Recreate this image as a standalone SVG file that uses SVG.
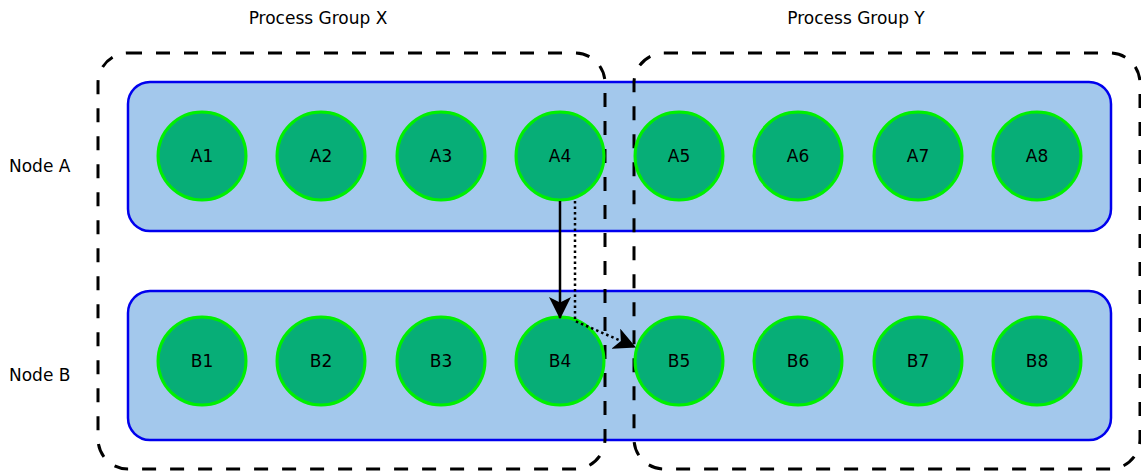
<svg xmlns="http://www.w3.org/2000/svg" width="1141" height="472" viewBox="0 0 1141 472">
<style>
text{font-family:"DejaVu Sans",sans-serif;font-size:17px;fill:#000}
.node{fill:#a3c8ec;stroke:#0000ee;stroke-width:2.5}
.grp{fill:none;stroke:#000;stroke-width:3;stroke-dasharray:14,14}
.p{fill:#07ae77;stroke:#00f000;stroke-width:3}
.pt{text-anchor:middle}
.c{fill:none;stroke:#000;stroke-width:2.5}
</style>
<defs>
<marker id="ah2" viewBox="0 0 20 20" refX="19" refY="10" markerWidth="22" markerHeight="22" markerUnits="userSpaceOnUse" orient="auto">
<path d="M0,0 L20,10 L0,20 L5,10 z" fill="#000"/>
</marker>
</defs>
<text x="318" y="24" class="pt">Process Group X</text>
<text x="856" y="24" class="pt">Process Group Y</text>
<text x="9" y="172">Node A</text>
<text x="9" y="381">Node B</text>
<g id="nodeA"><rect class="node" x="128" y="82" width="983" height="149" rx="22"/></g>
<g id="nodeB"><rect class="node" x="128" y="291" width="983" height="149" rx="22"/></g>
<g id="groupX"><rect class="grp" x="98" y="53" width="507" height="416" rx="30"/></g>
<g id="groupY"><rect class="grp" x="634" y="53" width="506" height="416" rx="30"/></g>
<g id="A1"><circle class="p" cx="202" cy="156" r="44"/><text class="pt" x="202" y="162">A1</text></g>
<g id="A2"><circle class="p" cx="321" cy="156" r="44"/><text class="pt" x="321" y="162">A2</text></g>
<g id="A3"><circle class="p" cx="441" cy="156" r="44"/><text class="pt" x="441" y="162">A3</text></g>
<g id="A4"><circle class="p" cx="560" cy="156" r="44"/><text class="pt" x="560" y="162">A4</text></g>
<g id="A5"><circle class="p" cx="679" cy="156" r="44"/><text class="pt" x="679" y="162">A5</text></g>
<g id="A6"><circle class="p" cx="798" cy="156" r="44"/><text class="pt" x="798" y="162">A6</text></g>
<g id="A7"><circle class="p" cx="918" cy="156" r="44"/><text class="pt" x="918" y="162">A7</text></g>
<g id="A8"><circle class="p" cx="1037" cy="156" r="44"/><text class="pt" x="1037" y="162">A8</text></g>
<g id="B1"><circle class="p" cx="202" cy="361" r="44"/><text class="pt" x="202" y="367">B1</text></g>
<g id="B2"><circle class="p" cx="321" cy="361" r="44"/><text class="pt" x="321" y="367">B2</text></g>
<g id="B3"><circle class="p" cx="441" cy="361" r="44"/><text class="pt" x="441" y="367">B3</text></g>
<g id="B4"><circle class="p" cx="560" cy="361" r="44"/><text class="pt" x="560" y="367">B4</text></g>
<g id="B5"><circle class="p" cx="679" cy="361" r="44"/><text class="pt" x="679" y="367">B5</text></g>
<g id="B6"><circle class="p" cx="798" cy="361" r="44"/><text class="pt" x="798" y="367">B6</text></g>
<g id="B7"><circle class="p" cx="918" cy="361" r="44"/><text class="pt" x="918" y="367">B7</text></g>
<g id="B8"><circle class="p" cx="1037" cy="361" r="44"/><text class="pt" x="1037" y="367">B8</text></g>
<g id="connectors">
<path class="c" d="M560,201 L560,318" marker-end="url(#ah2)"/>
<path class="c" d="M575,201 L575,321 L635,347" stroke-dasharray="2.5,3" marker-end="url(#ah2)"/>
</g>
</svg>
